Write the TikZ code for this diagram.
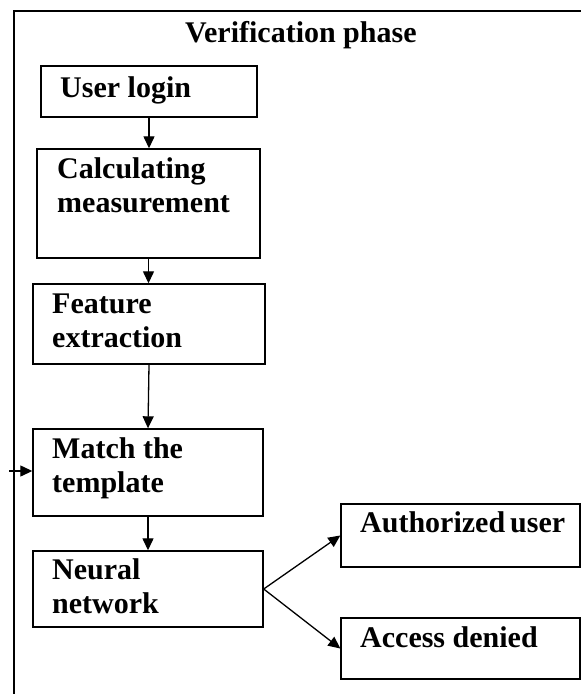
\documentclass[tikz,border=0pt]{standalone}
\usepackage{fontspec}
\setmainfont{Liberation Serif}
\usetikzlibrary{arrows.meta}
\begin{document}
\begin{tikzpicture}[x=1pt,y=-1pt,
  box/.style={draw, line width=1.4pt, inner sep=0pt},
  lbl/.style={font=\bfseries\fontsize{30}{34}\selectfont, inner sep=0pt, anchor=base west, align=left},
  arr/.style={line width=1.3pt, -{Triangle[length=12pt,width=11pt]}},
  frameline/.style={line width=1.5pt}]
\useasboundingbox (0,0) rectangle (581,694);
% outer frame
\coordinate (fb) at (14,694);
\coordinate (ftl) at (14,11);
\coordinate (ftr) at (581,11);
\draw[frameline] (fb) -- (ftl) -- (ftr);
\node[lbl] (title) at (185,42) {Verification phase};
% boxes
\node[box, minimum width=216pt, minimum height=51pt] (login) at (149,91.5) {};
\node[box, minimum width=223pt, minimum height=109pt] (calc) at (148.5,203.5) {};
\node[box, minimum width=232pt, minimum height=80pt] (feat) at (149,324) {};
\node[box, minimum width=230pt, minimum height=87pt] (match) at (148,472.5) {};
\node[box, minimum width=230pt, minimum height=76pt] (neural) at (148,589) {};
\node[box, minimum width=239pt, minimum height=63pt] (auth) at (460.5,535.5) {};
\node[box, minimum width=239pt, minimum height=61pt] (denied) at (460.5,648.5) {};
% texts (base anchor = baseline of last line)
\node[lbl] (tlogin) at (60,97) {User login};
\node[lbl] (tcalc) at (57,212) {Calculating\\measurement};
\node[lbl] (tfeat) at (52,347) {Feature\\extraction};
\node[lbl] (tmatch) at (52,492) {Match the\\template};
\node[lbl] (tneural) at (52,613) {Neural\\network};
\node[lbl] (tauth) at (360,532) {Authorized\hspace{5pt}user};
\node[lbl] (tdenied) at (360,647) {Access denied};
% connectors
\draw[arr] (login.south) -- (login.south |- calc.north);
\draw[arr] (calc.south) -- (calc.south |- feat.north);
\draw[arr] (feat.south) -- (match.north);
\draw[arr] (match.south) -- (neural.north);
\coordinate (in) at (9,471);
\draw[arr] (in) -- (in -| match.west);
\draw[arr] (neural.east) -- (auth.west);
\draw[arr] (neural.east) -- (denied.west);
\end{tikzpicture}
\end{document}
